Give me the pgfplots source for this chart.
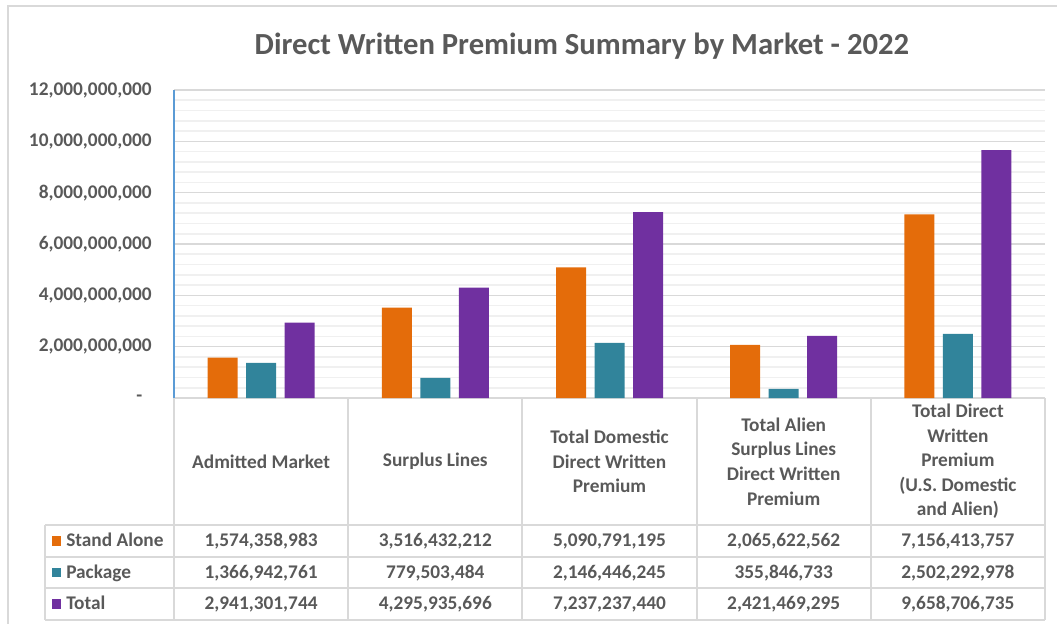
\documentclass[border=0pt]{standalone}
\usepackage{pgfplots}
\pgfplotsset{compat=1.18}
\usepackage{pgfplotstable}
\usepackage{fontspec}
\setmainfont{Carlito}
\definecolor{orng}{HTML}{E46C0A}
\definecolor{tealc}{HTML}{31849B}
\definecolor{purp}{HTML}{7030A0}
\definecolor{gridmaj}{HTML}{D9D9D9}
\definecolor{gridmin}{HTML}{F0F0F0}
\definecolor{txt}{HTML}{595959}
\definecolor{axblue}{HTML}{5B9BD5}
\definecolor{bord}{HTML}{D9D9D9}

\pgfplotstableread{
x sa pk tot
0 1574358983 1366942761 2941301744
1 3516432212 779503484 4295935696
2 5090791195 2146446245 7237237440
3 2065622562 355846733 2421469295
4 7156413757 2502292978 9658706735
}\datatable

\newcommand\tf{\fontsize{14.5}{18.4}\selectfont\bfseries\color{txt}}

\begin{document}
\begin{tikzpicture}
\begin{scope}[x=0.75pt,y=-0.75pt]
\path[use as bounding box] (0,0) rectangle (1057,624);
% outer chart border
\draw[bord, line width=1.5pt] (8,630) -- (8,6) -- (1065,6);
% title
\node[anchor=base, font=\fontsize{23}{27}\selectfont\bfseries, text=txt] at (582,55) {Direct Written Premium Summary by Market - 2022};
% table grid
\begin{scope}[bord, line width=1.5pt]
\draw (174,398) -- (1045,398);
\draw (45,525) -- (1045,525);
\draw (45,556.5) -- (1045,556.5);
\draw (45,588) -- (1045,588);
\draw (45,619.5) -- (1045,619.5);
\draw (45,525) -- (45,619.5);
\foreach \xx in {174,348.2,522.4,696.6,870.8,1045} \draw (\xx,398) -- (\xx,619.5);
\end{scope}
% header labels
\begin{scope}[every node/.style={align=center, font=\tf}]
\node at (261.1,461.5) {Admitted Market};
\node at (435.3,461.5) {Surplus Lines};
\node at (609.5,461.5) {Total Domestic\\Direct Written\\Premium};
\node at (783.7,461.5) {Total Alien\\Surplus Lines\\Direct Written\\Premium};
\node at (957.9,461.5) {Total Direct\\Written\\Premium\\(U.S. Domestic\\and Alien)};
\end{scope}
% row labels
\fill[orng] (52,536) rectangle (61,545.5);
\fill[tealc] (52,567.5) rectangle (61,577);
\fill[purp] (52,599) rectangle (61,608.5);
\begin{scope}[every node/.style={anchor=base west, font=\tf, inner sep=0pt}]
\node at (66,546.5) {Stand Alone};
\node at (66,578) {Package};
\node at (66,609.5) {Total};
\end{scope}
% values
\begin{scope}[every node/.style={anchor=base, font=\tf, inner sep=0pt}]
\node at (261.1,546.5) {1,574,358,983};
\node at (435.3,546.5) {3,516,432,212};
\node at (609.5,546.5) {5,090,791,195};
\node at (783.7,546.5) {2,065,622,562};
\node at (957.9,546.5) {7,156,413,757};
\node at (261.1,578) {1,366,942,761};
\node at (435.3,578) {779,503,484};
\node at (609.5,578) {2,146,446,245};
\node at (783.7,578) {355,846,733};
\node at (957.9,578) {2,502,292,978};
\node at (261.1,609.5) {2,941,301,744};
\node at (435.3,609.5) {4,295,935,696};
\node at (609.5,609.5) {7,237,237,440};
\node at (783.7,609.5) {2,421,469,295};
\node at (957.9,609.5) {9,658,706,735};
\end{scope}
\end{scope}

\begin{axis}[
  at={(130.5pt,-298.5pt)}, anchor=south west,
  scale only axis, width=653.25pt, height=231pt,
  xmin=-0.5, xmax=4.5, ymin=0, ymax=12e9,
  axis x line=none, axis y line*=left,
  y axis line style={draw=axblue, line width=1.5pt},
  xtick=\empty,
  scaled y ticks=false,
  ytick={0,2e9,4e9,6e9,8e9,10e9,12e9},
  yticklabels={{-\rule{7pt}{0pt}},{2,000,000,000},{4,000,000,000},{6,000,000,000},{8,000,000,000},{10,000,000,000},{12,000,000,000}},
  yticklabel style={font=\fontsize{14.5}{17}\selectfont\bfseries, text=txt, inner sep=0pt, xshift=-16.5pt},
  minor y tick num=4,
  major tick length=0pt, minor tick length=0pt,
  ymajorgrids, yminorgrids,
  major grid style={gridmaj, line width=1.2pt},
  minor grid style={gridmin, line width=1.2pt},
  ybar, bar width=22.5pt,
  clip=false,
]
\addplot[fill=orng, draw=none, bar shift=-28.875pt] table[x=x, y=sa] {\datatable};
\addplot[fill=tealc, draw=none, bar shift=0pt] table[x=x, y=pk] {\datatable};
\addplot[fill=purp, draw=none, bar shift=28.875pt] table[x=x, y=tot] {\datatable};
\end{axis}
\end{tikzpicture}
\end{document}
